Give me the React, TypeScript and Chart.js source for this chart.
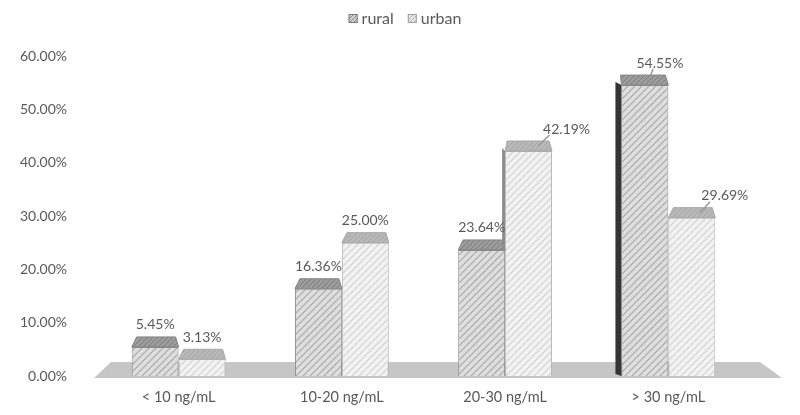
import React, { useEffect, useRef } from "react";
import { Chart, registerables } from "chart.js";

Chart.register(...registerables);

const categories = ["< 10 ng/mL", "10-20 ng/mL", "20-30 ng/mL", "> 30 ng/mL"];
const seriesNames = ["rural", "urban"];
const rural = [5.45, 16.36, 23.64, 54.55];
const urban = [3.13, 25.0, 42.19, 29.69];
const yTicks = [0, 10, 20, 30, 40, 50, 60];

const FONT = "Lato, 'Liberation Sans', sans-serif";
const TEXT = "#595959";

function makeHatch(bg: string, line: string, size: number, lw: number) {
  const c = document.createElement("canvas");
  c.width = size;
  c.height = size;
  const ctx = c.getContext("2d")!;
  ctx.fillStyle = bg;
  ctx.fillRect(0, 0, size, size);
  ctx.strokeStyle = line;
  ctx.lineWidth = lw;
  ctx.beginPath();
  ctx.moveTo(-1, size + 1);
  ctx.lineTo(size + 1, -1);
  ctx.moveTo(-1, 1);
  ctx.lineTo(1, -1);
  ctx.moveTo(size - 1, size + 1);
  ctx.lineTo(size + 1, size - 1);
  ctx.stroke();
  return ctx.createPattern(c, "repeat")!;
}

const styles3d = {
  id: "styles3d",
  beforeDatasetsDraw(chart: any) {
    const { ctx, chartArea, scales } = chart;
    const y0 = scales.y.getPixelForValue(0);
    ctx.save();
    ctx.fillStyle = "#c6c6c6";
    ctx.beginPath();
    ctx.moveTo(chartArea.left - 3, y0 + 2);
    ctx.lineTo(chartArea.right + 32, y0 + 2);
    ctx.lineTo(chartArea.right + 10, y0 - 14);
    ctx.lineTo(chartArea.left + 14, y0 - 14);
    ctx.closePath();
    ctx.fill();
    ctx.restore();
  },
  afterDatasetsDraw(chart: any, _args: any, opts: any) {
    const { ctx, chartArea } = chart;
    const mid = (chartArea.left + chartArea.right) / 2;
    const m0 = chart.getDatasetMeta(0).data;
    const m1 = chart.getDatasetMeta(1).data;
    const tops = [
      makeHatch("#9c9c9c", "#7e7e7e", 5, 1),
      makeHatch("#b8b8b8", "#a4a4a4", 5, 1),
    ];
    ctx.save();
    [m0, m1].forEach((meta: any[], di: number) => {
      meta.forEach((bar: any, i: number) => {
        const L = bar.x - bar.width / 2;
        const R = bar.x + bar.width / 2;
        const top = bar.y;
        const bottom = bar.base;
        let sw = Math.round((bar.x - mid) / 38);
        if (sw < 3) sw = 0;
        if (sw > 0) {
          let lowest = bottom;
          if (di === 1) lowest = m0[i].y;
          if (lowest > top) {
            ctx.fillStyle = di === 0 ? "#343434" : "#8c8c8c";
            ctx.beginPath();
            ctx.moveTo(L, top);
            ctx.lineTo(L - sw, top - 3);
            ctx.lineTo(L - sw, lowest - 2);
            ctx.lineTo(L, lowest);
            ctx.closePath();
            ctx.fill();
          } else {
            sw = 0;
          }
        }
        ctx.fillStyle = tops[di];
        ctx.strokeStyle = di === 0 ? "#858585" : "#a8a8a8";
        ctx.lineWidth = 1;
        ctx.beginPath();
        ctx.moveTo(L, top);
        ctx.lineTo(R, top);
        ctx.lineTo(R - 3, top - 10);
        ctx.lineTo(L + 5 - sw, top - 10);
        ctx.closePath();
        ctx.fill();
        ctx.stroke();
      });
    });
    // data labels
    ctx.font = `14px ${FONT}`;
    ctx.fillStyle = TEXT;
    ctx.textAlign = "center";
    ctx.textBaseline = "bottom";
    [m0, m1].forEach((meta: any[], di: number) => {
      const data = chart.data.datasets[di].data;
      const shifts = opts.labelShift[di];
      meta.forEach((bar: any, i: number) => {
        const v = data[i] as number;
        const dx = shifts[i];
        const top = bar.y - 5;
        if (dx !== 0) {
          ctx.strokeStyle = "#9a9a9a";
          ctx.lineWidth = 1.5;
          ctx.beginPath();
          ctx.moveTo(bar.x + dx * 0.25, top);
          ctx.lineTo(bar.x + dx * 0.55, top - 11);
          ctx.stroke();
        }
        ctx.fillText(v.toFixed(2) + "%", bar.x + dx, top - 10);
      });
    });
    // legend
    const fills = [
      makeHatch("#cfcfcf", "#8a8a8a", 4, 1),
      makeHatch("#e6e6e6", "#b5b5b5", 4, 1),
    ];
    ctx.font = `16px ${FONT}`;
    ctx.textAlign = "left";
    ctx.textBaseline = "middle";
    const widths = seriesNames.map((n) => ctx.measureText(n).width);
    const box = 9;
    const gap = 4;
    const spacing = 14;
    const total = widths[0] + widths[1] + 2 * (box + gap) + spacing;
    let x = chart.width / 2 - total / 2 + 5;
    const ly = 18;
    seriesNames.forEach((n, k) => {
      ctx.fillStyle = fills[k];
      ctx.fillRect(x, ly - 4, box, box);
      ctx.strokeStyle = k === 0 ? "#7a7a7a" : "#a0a0a0";
      ctx.lineWidth = 1;
      ctx.strokeRect(x + 0.5, ly - 3.5, box - 1, box - 1);
      ctx.fillStyle = TEXT;
      ctx.fillText(n, x + box + gap, ly + 1);
      x += box + gap + widths[k] + spacing;
    });
    ctx.restore();
  },
};

export default function App() {
  const ref = useRef<HTMLCanvasElement>(null);
  useEffect(() => {
    document.body.style.margin = "0";
    const ruralFill = makeHatch("#dedede", "#a9a9a9", 7, 1.2);
    const urbanFill = makeHatch("#f2f2f2", "#d2d2d2", 7, 1.2);
    const chart = new Chart(ref.current!, {
      type: "bar",
      data: {
        labels: categories,
        datasets: [
          {
            label: seriesNames[0],
            data: rural,
            backgroundColor: ruralFill,
            borderColor: "#8e8e8e",
            borderWidth: 1,
            barPercentage: 1,
            categoryPercentage: 0.575,
          },
          {
            label: seriesNames[1],
            data: urban,
            backgroundColor: urbanFill,
            borderColor: "#b4b4b4",
            borderWidth: 1,
            barPercentage: 1,
            categoryPercentage: 0.575,
          },
        ],
      },
      options: {
        responsive: false,
        animation: false,
        layout: { padding: { top: 56, right: 50, left: 0, bottom: 0 } },
        plugins: {
          legend: { display: false },
          tooltip: { enabled: false },
          styles3d: {
            labelShift: [
              [0, 0, 0, 15],
              [0, 0, 38, 33],
            ],
          },
        } as any,
        scales: {
          x: {
            grid: { display: false, drawTicks: false },
            border: { display: false },
            ticks: {
              color: TEXT,
              font: { family: FONT, size: 14.5 },
              padding: 13,
            },
            afterFit(s: any) {
              s.height = 39;
            },
          },
          y: {
            min: 0,
            max: 60,
            afterBuildTicks(s: any) {
              s.ticks = yTicks.map((v) => ({ value: v }));
            },
            grid: { display: false, drawTicks: false },
            border: { display: false },
            ticks: {
              color: TEXT,
              font: { family: FONT, size: 14 },
              padding: 30,
              callback: (v: any) => Number(v).toFixed(2) + "%",
            },
            afterFit(s: any) {
              s.width = 97;
            },
          },
        },
      },
      plugins: [styles3d],
    });
    return () => chart.destroy();
  }, []);
  return (
    <div style={{ width: 800, height: 415, background: "#fff" }}>
      <canvas ref={ref} width={800} height={415} />
    </div>
  );
}
